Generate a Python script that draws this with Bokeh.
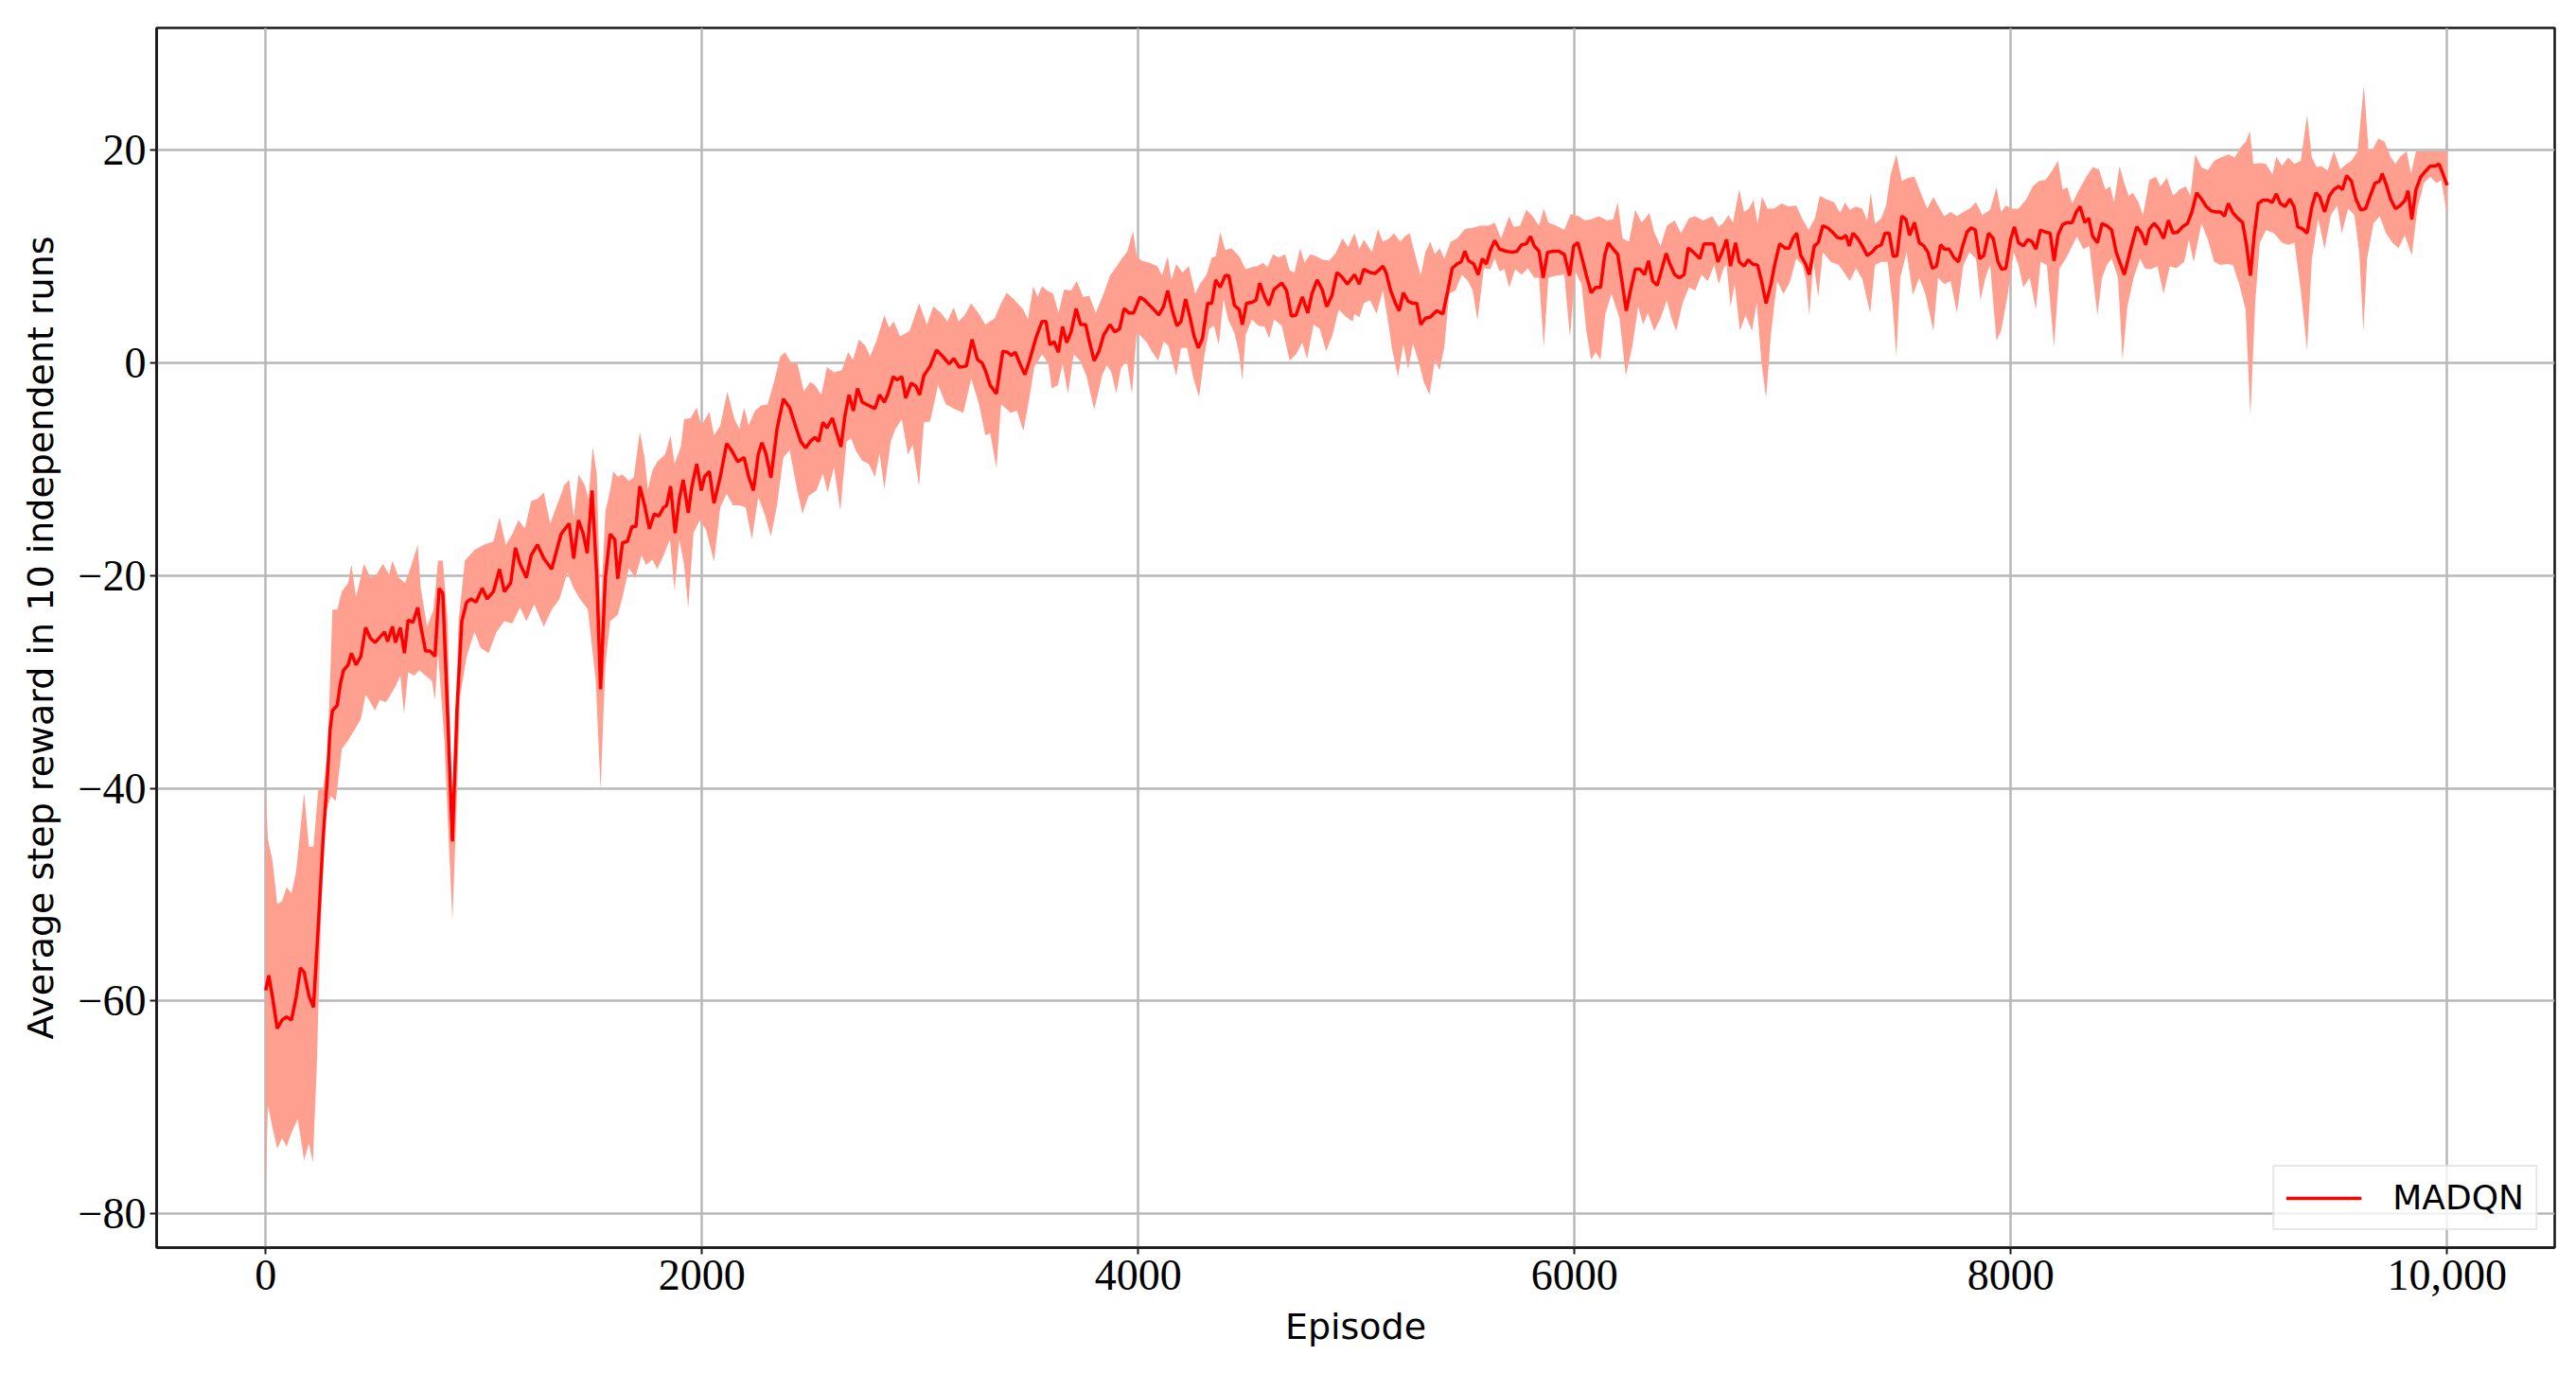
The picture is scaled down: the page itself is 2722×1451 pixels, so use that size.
from bokeh.plotting import figure
from bokeh.models import Range1d
from bokeh.embed import file_html
from bokeh.resources import INLINE

# ---- mean curve (episode, average step reward) ----
mean_ep = [0, 14, 31, 53, 75, 96, 118, 140, 159, 176, 198, 219, 241, 263, 284, 295, 306, 328, 342, 357,
           378, 393, 414, 436, 458, 480, 501, 523, 545, 559, 581, 595, 617, 636, 653, 675, 697, 711, 733, 754,
           776, 795, 812, 834, 856, 877, 899, 921, 942, 964, 993, 1015, 1044, 1072, 1094, 1123, 1145, 1166, 1195, 1217,
           1246, 1275, 1311, 1354, 1391, 1412, 1434, 1456, 1474, 1496, 1518, 1535, 1557, 1579, 1600,
           1614, 1636, 1658, 1679, 1697, 1715, 1737, 1759, 1781, 1802, 1824, 1838, 1856, 1877, 1896, 1914, 1937, 1954, 1976, 1997,
           2012, 2034, 2055, 2084, 2113, 2135, 2164, 2193, 2214, 2236, 2258, 2275, 2294, 2316, 2344, 2373, 2402, 2431, 2453, 2475,
           2496, 2518, 2535, 2554, 2573, 2598, 2616, 2637, 2655, 2674, 2694, 2713, 2735, 2764, 2793, 2814, 2836, 2851, 2877, 2894,
           2916, 2934, 2959, 2981, 2998, 3017, 3046, 3075, 3104, 3133, 3154, 3180, 3212, 3238, 3263, 3284,
           3299, 3321, 3350, 3364, 3379, 3400, 3418, 3436, 3458, 3480, 3501, 3530, 3559, 3577, 3595, 3614, 3634, 3653, 3672, 3692,
           3715, 3736, 3759, 3776, 3798, 3820, 3841, 3870, 3892, 3914, 3935, 3957, 3979, 4008, 4029, 4058, 4094, 4116, 4135, 4155,
           4177, 4196, 4217, 4239, 4256, 4275, 4294, 4318, 4337, 4355, 4376, 4398, 4415, 4441, 4463, 4477, 4496, 4521, 4540, 4557,
           4579, 4598, 4622, 4658, 4680, 4702, 4723, 4752, 4777, 4796, 4820, 4843, 4864, 4887, 4911, 4933, 4959,
           4991, 5013, 5034, 5063, 5085, 5107, 5121, 5136, 5157, 5179, 5196, 5215, 5237, 5259, 5277, 5295, 5316, 5338, 5367, 5396,
           5418, 5439, 5461, 5480, 5497, 5514, 5538, 5558, 5577, 5595, 5616, 5634, 5656, 5685, 5714, 5736, 5757, 5779, 5798, 5815,
           5837, 5856, 5876, 5902, 5928, 5953, 5977, 5996, 6015, 6035, 6057, 6076, 6097, 6119, 6138, 6155, 6177, 6198, 6217, 6237,
           6256, 6278, 6300, 6321, 6339, 6358, 6379, 6401, 6420, 6437, 6459, 6480, 6502, 6521, 6545, 6574, 6593, 6613, 6637, 6657, 6676,
           6697, 6715, 6738, 6755, 6777, 6796, 6816, 6839, 6857, 6878, 6900, 6917, 6940, 6965, 6984, 7001, 7018, 7037, 7059, 7076,
           7099, 7117, 7138, 7160, 7182, 7204, 7225, 7244, 7259, 7276, 7298, 7319, 7341, 7363, 7384, 7406, 7423, 7442, 7461, 7478,
           7500, 7519, 7536, 7558, 7580, 7601, 7620, 7640, 7659, 7678, 7695, 7717, 7739, 7760, 7779, 7799, 7818, 7837, 7857, 7876,
           7898, 7919, 7941, 7958, 7977, 7999, 8016, 8035, 8057, 8078, 8097, 8115, 8136, 8158, 8180, 8198, 8216, 8237, 8259, 8281,
           8300, 8317, 8339, 8357,
           8375, 8397, 8418, 8440, 8462, 8483, 8520, 8549, 8577, 8599, 8618, 8635, 8657, 8679, 8700, 8722, 8744, 8765, 8787, 8809,
           8830, 8852, 8874, 8896, 8917, 8939, 8961, 8979, 8997, 9018, 9040, 9062, 9081, 9098, 9115, 9134, 9156, 9178, 9199, 9217,
           9235, 9257, 9279, 9298, 9315, 9337, 9358, 9380, 9399, 9416, 9438, 9460, 9481, 9503, 9520, 9539, 9561, 9582, 9604, 9626,
           9647, 9669, 9691, 9702, 9720, 9741, 9763, 9785, 9807, 9821, 9838, 9857, 9879, 9900, 9922, 9944, 9963, 9980, 10000]
mean_reward = [-59.0, -57.6, -59.6, -62.6, -61.8, -61.5, -61.8, -59.6, -56.9, -57.3, -59.5, -60.6, -53.0, -44.8, -38.6, -34.5, -32.7, -32.2, -30.2, -28.9,
               -28.4, -27.3, -28.4, -27.6, -24.9, -25.9, -26.3, -25.8, -25.3, -26.2, -24.8, -26.3, -24.9, -27.3, -24.2, -24.4, -23.0, -24.8, -27.1, -27.1,
               -27.6, -21.2, -21.7, -33.0, -45.0, -32.5, -24.3, -22.5, -22.2, -22.5, -21.2, -22.2, -21.5, -19.4, -21.5, -20.7, -17.4, -18.9, -20.2, -18.1,
               -17.1, -18.4, -19.4, -16.1, -15.1, -18.4, -14.8, -16.1, -17.9, -12.0, -20.2, -30.7, -20.2, -16.1, -16.6,
               -20.3, -16.9, -16.8, -15.4, -15.4, -11.6, -13.4, -15.6, -14.2, -14.4, -13.6, -13.4, -11.6, -16.0, -12.8, -11.0, -14.1, -11.6, -9.5, -12.0,
               -10.7, -10.2, -13.2, -10.7, -7.6, -8.2, -9.3, -8.9, -10.7, -12.0, -8.6, -7.5, -8.6, -10.8, -6.2, -3.4, -4.2, -6.1, -7.4, -8.0,
               -7.4, -7.0, -7.4, -5.6, -6.1, -5.2, -6.5, -7.9, -5.0, -3.0, -4.5, -2.4, -3.7, -4.0, -4.3, -3.0, -3.7, -3.0, -1.3, -1.6,
               -1.3, -3.3, -1.9, -2.2, -3.0, -1.2, -0.3, 1.2, 0.6, -0.1, 0.4, -0.4, -0.3, 2.2, 0.3, 0.0,
               -0.7, -2.1, -2.9, -0.9, 1.1, 1.0, 0.7, 1.0, -0.1, -1.1, 0.2, 2.3, 3.9, 3.9, 1.7, 2.0, 1.0, 3.4, 1.9, 2.9,
               5.1, 3.6, 3.6, 2.0, 0.2, 1.1, 2.6, 3.6, 2.9, 3.2, 5.1, 4.7, 4.7, 6.2, 5.9, 5.3, 4.5, 5.3, 6.8, 5.0,
               3.5, 3.9, 6.0, 4.1, 2.5, 1.4, 2.3, 5.6, 5.6, 7.8, 7.1, 8.2, 8.2, 5.4, 5.0, 3.6, 5.6, 5.7, 5.9, 7.5,
               6.2, 5.4, 6.9, 7.5, 6.8, 4.4, 4.5, 6.2, 4.7, 6.5, 7.8, 6.9, 5.3, 6.3, 8.5, 8.1, 7.4,
               8.3, 7.4, 8.8, 8.5, 8.4, 8.8, 9.1, 8.5, 6.8, 5.6, 4.9, 6.6, 5.8, 5.6, 5.6, 3.6, 4.2, 4.3, 4.9, 4.6,
               6.7, 8.9, 9.3, 9.5, 10.5, 9.6, 9.3, 8.3, 9.8, 9.3, 10.7, 11.5, 10.7, 10.5, 10.4, 10.5, 11.1, 11.2, 11.9, 11.0,
               10.5, 8.0, 10.4, 10.5, 10.5, 10.2, 8.2, 11.0, 11.3, 9.8, 8.0, 6.6, 7.1, 7.1, 10.1, 11.3, 10.7, 10.2, 7.7, 4.9,
               6.8, 8.8, 8.8, 8.3, 9.6, 7.7, 7.3, 8.9, 10.3, 9.3, 8.3, 8.0, 8.3, 10.8, 10.4, 9.8, 11.2, 11.2, 11.2, 9.5, 10.4,
               11.6, 9.1, 11.3, 9.5, 9.1, 9.7, 9.3, 9.2, 7.7, 5.6, 7.4, 9.2, 11.2, 10.8, 10.8, 11.7, 12.2, 10.1, 9.3, 8.3,
               11.0, 11.3, 12.9, 12.7, 12.3, 11.8, 11.7, 12.0, 11.0, 12.2, 11.7, 11.0, 10.1, 10.4, 10.9, 11.1, 12.2, 12.2, 10.0, 10.1,
               13.8, 13.5, 12.0, 13.2, 11.3, 11.0, 10.4, 8.9, 9.1, 11.1, 10.7, 10.7, 9.9, 9.5, 11.0, 12.3, 12.7, 12.5, 9.8, 10.1,
               12.2, 11.7, 9.5, 8.8, 8.9, 11.6, 12.8, 11.3, 11.0, 11.6, 11.4, 10.7, 12.5, 12.3, 12.2, 9.6, 12.0, 13.0, 13.2, 13.2,
               14.2, 14.7, 13.2, 13.6,
               11.9, 11.3, 13.1, 12.9, 12.5, 10.4, 8.3, 10.7, 12.8, 12.2, 11.1, 12.6, 13.1, 12.6, 11.7, 13.4, 12.2, 12.3, 12.8, 13.1,
               14.2, 16.0, 15.4, 14.7, 14.3, 14.2, 14.2, 13.8, 15.0, 14.1, 13.6, 13.2, 11.0, 8.2, 11.9, 15.0, 15.3, 15.3, 15.1, 15.9,
               15.0, 14.7, 15.4, 14.7, 12.8, 12.6, 12.2, 14.7, 16.0, 15.6, 14.2, 15.7, 16.3, 16.6, 16.3, 17.6, 17.1, 15.4, 14.4, 14.5,
               15.7, 16.9, 17.1, 17.8, 16.8, 15.4, 14.5, 14.8, 15.3, 16.2, 13.5, 16.3, 17.5, 18.0, 18.5, 18.5, 18.7, 17.8, 16.7]

# ---- upper edge of the shaded band ----
upper_ep = [0, 10, 31, 53, 75, 96, 118, 140, 176, 198, 219, 241, 263, 284, 306, 328, 349, 378, 393, 414,
            451, 480, 508, 537, 566, 581, 610, 639, 667, 697, 711, 740, 769, 790, 812, 834, 856, 884, 913, 957,
            1000, 1044, 1072, 1101, 1130, 1159, 1188, 1217, 1246, 1275, 1304, 1333, 1369, 1391, 1412, 1434, 1463, 1480, 1499, 1518,
            1535, 1557, 1579, 1593,
            1614, 1636, 1665, 1687, 1715, 1737, 1752, 1773, 1795, 1831, 1856, 1874, 1903, 1918, 1947, 1976, 1997, 2034, 2055, 2084,
            2116, 2149, 2171, 2193, 2214, 2243, 2272, 2301, 2330, 2359, 2381, 2409, 2438, 2467, 2496, 2518, 2547, 2573, 2605, 2641,
            2670, 2692, 2720, 2749, 2771, 2800, 2836, 2858, 2879, 2908, 2952, 2995, 3031, 3060, 3096, 3125, 3154, 3176, 3205, 3234, 3270,
            3299, 3342, 3371, 3397, 3429, 3473, 3494, 3519, 3538, 3559, 3581, 3610, 3634, 3660, 3692, 3718, 3747, 3776, 3805, 3841,
            3870, 3892, 3921, 3950, 3976, 3993, 4015, 4051, 4087, 4109, 4135, 4152, 4174, 4203, 4232, 4261, 4282, 4311, 4337, 4355,
            4376, 4398, 4427, 4463, 4492, 4521, 4546, 4572, 4593, 4618, 4644, 4673, 4694, 4716, 4742, 4762, 4788, 4817, 4846, 4875,
            4904, 4936, 4962,
            4991, 5013, 5034, 5071, 5099, 5121, 5150, 5172, 5201, 5222, 5244, 5266, 5295, 5316, 5338, 5360, 5381, 5403, 5432, 5461,
            5497, 5533, 5569, 5606, 5634, 5663, 5700, 5721, 5750, 5779, 5808, 5837, 5859, 5880, 5916, 5953, 5982, 6018, 6047, 6076,
            6112, 6148, 6177, 6198, 6220, 6249, 6278, 6307, 6343, 6365, 6394, 6423, 6459, 6488, 6524, 6553, 6589, 6632, 6661,
            6683, 6705, 6726, 6755, 6777, 6799, 6820, 6839, 6859, 6885, 6914, 6950, 6979, 7016, 7045, 7073, 7102, 7124, 7153, 7189,
            7218, 7240, 7261, 7290, 7319, 7341, 7358, 7377, 7406, 7428, 7449, 7475, 7500, 7529, 7558, 7587, 7616, 7645, 7674, 7695,
            7724, 7753, 7782, 7811, 7840, 7869, 7905, 7934, 7955, 7977, 8006, 8035, 8071, 8100, 8129, 8158, 8187, 8216, 8237, 8259,
            8281, 8310, 8346,
            8375, 8404, 8433, 8455, 8473, 8498, 8520, 8541, 8560, 8585, 8606, 8635, 8664, 8686, 8715, 8744, 8773, 8802, 8823, 8845,
            8874, 8903, 8932, 8961, 8997, 9026, 9055, 9077, 9095, 9112, 9141, 9170, 9199, 9217, 9243, 9271, 9300, 9329, 9358, 9380,
            9402, 9423, 9452, 9481, 9510, 9539, 9561, 9590, 9618, 9640, 9662, 9684, 9713, 9742, 9763, 9785, 9814, 9835, 9857, 9886,
            9915, 9944, 9973, 10000]
upper_reward = [-40.1, -44.8, -46.8, -50.9, -50.6, -49.3, -49.9, -47.8, -40.4, -45.5, -45.5, -40.1, -40.1, -36.6, -23.2, -23.2, -21.5, -20.7, -19.0, -22.0,
                -18.9, -20.2, -19.9, -18.9, -19.9, -18.6, -20.2, -20.7, -19.1, -17.1, -21.2, -24.8, -23.2, -18.6, -18.6, -24.3, -44.2, -24.3, -18.6, -17.6,
                -17.1, -16.8, -14.5, -17.1, -16.1, -14.8, -15.6, -13.0, -12.8, -12.2, -15.1, -13.5, -11.5, -11.0, -14.5, -10.5, -11.5, -12.8, -7.9, -10.5,
                -23.8, -14.0, -12.0, -10.2,
                -10.7, -10.5, -11.1, -10.8, -6.5, -8.9, -11.9, -10.1, -9.3, -8.6, -6.8, -9.5, -7.9, -5.3, -5.2, -4.2, -5.9, -4.6, -6.8, -5.9,
                -2.7, -5.3, -6.2, -4.2, -5.9, -4.5, -4.0, -3.9, -1.8, 0.6, 1.0, 0.0, -0.1, -2.7, -1.8, -2.1, -3.0, -0.4, -0.9, -0.7,
                1.0, 0.3, 2.2, 1.6, 0.6, 2.1, 4.5, 3.3, 3.9, 2.5, 3.0, 5.6, 3.6, 5.3, 4.7, 3.9, 5.2, 3.9, 4.5, 5.6, 4.6,
                3.6, 4.2, 5.6, 6.6, 6.0, 5.0, 4.1, 7.2, 6.2, 7.2, 6.8, 6.5, 4.7, 6.9, 6.8, 7.7, 6.2, 6.3, 4.7, 6.5,
                8.2, 8.8, 9.7, 10.5, 12.4, 10.0, 9.6, 9.4, 9.1, 8.2, 10.0, 7.8, 9.3, 8.5, 9.1, 6.5, 7.4, 8.2, 9.9, 10.0,
                12.3, 10.6, 10.8, 10.0, 8.8, 9.0, 9.1, 9.4, 9.0, 10.2, 9.9, 10.2, 8.7, 8.5, 10.8, 9.4, 10.2, 10.0, 9.7, 9.6,
                10.3, 11.7, 10.9,
                12.2, 10.7, 11.6, 10.4, 12.6, 11.4, 11.7, 12.2, 11.4, 11.9, 12.2, 10.4, 8.2, 10.4, 11.4, 10.2, 10.8, 9.8, 11.4, 11.7,
                12.6, 12.7, 12.9, 12.9, 13.2, 11.7, 13.8, 12.8, 12.9, 14.4, 13.8, 12.9, 14.5, 13.2, 12.9, 12.5, 14.0, 13.8, 13.4, 13.5,
                13.8, 13.4, 13.5, 15.1, 11.7, 11.4, 14.4, 13.2, 14.1, 12.3, 11.0, 12.9, 13.4, 12.2, 13.6, 13.8, 13.4, 13.8, 12.8,
                13.2, 13.9, 13.2, 16.3, 14.2, 14.5, 15.3, 13.1, 15.6, 14.5, 14.5, 15.0, 14.7, 14.8, 13.5, 12.5, 13.6, 15.7, 15.4, 15.1,
                14.1, 15.1, 14.4, 14.7, 14.5, 13.4, 16.0, 13.1, 13.6, 14.8, 17.7, 19.6, 17.1, 17.4, 17.5, 16.0, 14.5, 15.6, 14.5, 13.8,
                14.2, 13.8, 14.2, 14.5, 15.1, 13.9, 14.4, 16.5, 14.2, 14.8, 14.5, 14.5, 15.4, 16.6, 17.1, 17.2, 18.0, 19.0, 16.3, 16.5,
                15.0, 16.2, 17.5,
                18.4, 18.2, 16.3, 16.6, 15.1, 18.5, 16.9, 15.7, 16.0, 15.1, 13.9, 17.2, 17.5, 16.6, 17.4, 15.7, 16.3, 16.6, 15.7, 19.6,
                18.4, 18.1, 19.0, 19.3, 19.6, 19.3, 20.3, 20.8, 21.8, 18.7, 18.8, 18.7, 17.7, 19.4, 18.5, 19.3, 18.7, 19.0, 23.3, 19.3,
                18.4, 18.5, 18.1, 19.9, 18.2, 18.7, 19.0, 19.9, 26.1, 19.9, 20.2, 21.1, 20.8, 19.3, 18.7, 19.4, 19.9, 17.8, 19.9, 19.9,
                19.9, 19.9, 19.9, 19.9]

# ---- lower edge of the shaded band ----
lower_ep = [0, 10, 31, 53, 75, 96, 118, 147, 176, 198, 216, 234, 255, 277, 299, 321, 349, 378, 407, 436,
            458, 480, 501, 523, 552, 573, 595, 617, 634, 653, 682, 704, 733, 762, 776, 790, 819, 841, 856, 870,
            891, 921, 957, 986, 1022, 1058, 1094, 1130, 1166, 1195, 1231, 1275, 1311, 1347, 1383, 1412, 1441, 1477, 1513, 1535,
            1557, 1579,
            1614, 1636, 1665, 1694, 1723, 1744, 1773, 1795, 1824, 1853, 1874, 1896, 1918, 1937, 1961, 1990, 2019, 2055, 2084, 2113,
            2142, 2171, 2200, 2229, 2258, 2287, 2316, 2344, 2373, 2402, 2431, 2460, 2489, 2525, 2554, 2576, 2605, 2634, 2663, 2684,
            2706, 2735, 2764, 2793, 2814, 2836, 2865, 2887, 2916, 2944, 2966, 2995, 3017, 3046, 3082, 3118, 3154, 3198, 3234, 3270, 3299,
            3321, 3350, 3371, 3415, 3444, 3473, 3501, 3523, 3559, 3588, 3603, 3632, 3653, 3678, 3704, 3733, 3762, 3798, 3834, 3856,
            3877, 3899, 3921, 3947, 3971, 3993, 4036, 4065, 4091, 4116, 4138, 4174, 4196, 4224, 4253, 4279, 4304, 4326, 4347, 4369,
            4391, 4412, 4441, 4463, 4477, 4492, 4521, 4550, 4579, 4600, 4622, 4658, 4694, 4723, 4752, 4774, 4803, 4832, 4861, 4890,
            4919, 4948, 4983,
            4991, 5013, 5034, 5063, 5092, 5121, 5143, 5164, 5191, 5215, 5237, 5259, 5287, 5309, 5335, 5360, 5381, 5403, 5425, 5454,
            5483, 5512, 5533, 5555, 5584, 5613, 5634, 5656, 5678, 5700, 5728, 5757, 5786, 5815, 5837, 5859, 5880, 5916, 5953, 5979,
            6003, 6032, 6054, 6076, 6097, 6119, 6141, 6169, 6206, 6235, 6264, 6292, 6314, 6336, 6365, 6394, 6423, 6444, 6466, 6495,
            6524, 6553, 6582, 6611, 6640, 6661,
            6683, 6697, 6715, 6734, 6758, 6784, 6813, 6835, 6857, 6878, 6900, 6929, 6958, 6987, 7016, 7045, 7062, 7076, 7095, 7117,
            7138, 7175, 7211, 7232, 7261, 7290, 7319, 7355, 7377, 7406, 7435, 7457, 7475, 7493, 7522, 7551, 7580, 7608, 7645, 7666,
            7695, 7724, 7753, 7782, 7811, 7840, 7861, 7883, 7905, 7934, 7955, 7984, 8013, 8035, 8057, 8086, 8115, 8136, 8165, 8198,
            8223, 8252, 8274, 8303, 8332, 8360,
            8375, 8397, 8418, 8440, 8462, 8491, 8512, 8534, 8563, 8592, 8614, 8642, 8672, 8700, 8729, 8758, 8794, 8816, 8838, 8874,
            8903, 8932, 8961, 8990, 9018, 9047, 9076, 9098, 9120, 9141, 9170, 9206, 9243, 9271, 9300, 9329, 9358, 9380, 9409, 9438,
            9467, 9496, 9517, 9546, 9575, 9597, 9616, 9633, 9662, 9691, 9720, 9749, 9777, 9806, 9838, 9864, 9893, 9922, 9951, 9973, 10000]
lower_reward = [-77.5, -69.8, -71.9, -73.9, -72.9, -73.7, -72.4, -71.1, -75.0, -73.4, -75.2, -66.3, -50.9, -42.2, -40.7, -41.2, -36.3, -35.5, -34.5, -33.5,
                -31.2, -31.9, -32.7, -31.7, -31.9, -31.2, -30.4, -29.4, -33.0, -29.1, -29.4, -28.9, -29.4, -29.9, -31.7, -27.3, -35.5, -45.8, -52.4, -44.8,
                -31.4, -27.6, -25.3, -26.8, -27.3, -25.3, -24.3, -24.5, -23.0, -24.3, -22.7, -24.8, -23.2, -22.2, -19.7, -21.2, -22.2, -23.2, -29.9, -40.1,
                -28.4, -24.3,
                -23.7, -22.0, -19.3, -20.2, -18.1, -19.0, -18.5, -19.4, -18.1, -16.6, -21.4, -16.6, -19.0, -23.0, -16.0, -14.8, -15.7, -18.7, -13.6, -12.3,
                -13.4, -13.4, -13.6, -16.6, -12.6, -14.2, -16.3, -13.4, -8.9, -8.2, -11.4, -14.2, -12.5, -12.0, -10.4, -12.2, -9.8, -13.9, -7.4, -7.1,
                -8.3, -9.2, -9.5, -10.7, -8.5, -11.9, -7.4, -6.2, -5.3, -8.6, -7.7, -11.6, -5.6, -5.5, -2.1, -3.9, -4.3, -4.7, -1.5, -3.9, -6.8,
                -6.6, -9.9, -3.9, -4.7, -4.5, -6.4, -3.3, -0.4, 0.8, -0.1, -2.4, -2.1, -0.1, -2.9, 0.8, 0.2, -1.2, -4.4, -1.2, -0.2,
                -0.9, -2.9, -0.5, 0.2, -2.9, 2.9, 2.0, 1.0, 0.2, 2.0, 1.6, -1.2, 1.4, 1.4, -1.5, -3.2, 0.8, 3.2, 3.5, 1.7,
                6.0, 4.1, 2.8, 0.8, -1.7, 2.6, 4.1, 3.5, 3.4, 2.3, 4.1, 3.5, 0.2, 0.8, 1.9, 0.4, 3.6, 3.2, 1.1, 2.6,
                5.0, 4.4, 3.9,
                4.6, 4.3, 5.6, 5.9, 4.6, 6.8, 4.2, 1.2, -1.3, 1.8, -0.6, 1.8, 0.0, -1.8, -3.0, 0.3, -0.7, 1.5, 6.5, 6.8,
                8.3, 7.7, 6.8, 4.0, 8.9, 8.8, 9.8, 8.6, 8.8, 7.1, 8.8, 8.3, 8.9, 8.0, 8.0, 1.5, 8.0, 8.2, 8.3, 2.4,
                8.6, 7.4, 3.0, 0.3, 1.0, 0.3, 4.6, 6.5, 4.2, -1.2, 1.5, 5.3, 3.6, 4.7, 3.0, 4.2, 5.9, 4.2, 3.0, 5.6,
                7.1, 6.8, 8.3, 7.7, 9.2, 7.4,
                8.9, 9.2, 5.3, 7.4, 3.0, 4.5, 3.0, 5.6, 0.0, -3.3, 2.7, 7.7, 6.5, 7.6, 9.8, 9.2, 7.7, 4.5, 9.5, 6.2,
                10.4, 9.5, 9.2, 8.6, 7.7, 8.9, 7.9, 4.7, 9.2, 9.5, 9.5, 5.6, 0.6, 8.0, 10.4, 6.4, 8.0, 6.5, 3.0, 8.0,
                7.4, 7.7, 4.7, 9.2, 10.4, 9.8, 5.9, 8.0, 9.2, 2.1, 3.0, 6.2, 10.4, 9.2, 7.1, 8.0, 5.0, 9.5, 9.2, 1.5,
                8.9, 9.8, 10.7, 11.9, 10.7, 11.0,
                8.3, 4.5, 8.0, 9.2, 9.8, 8.0, 0.3, 5.3, 8.0, 9.8, 8.9, 8.8, 9.1, 6.5, 9.1, 8.9, 9.5, 11.6, 9.5, 13.1,
                11.6, 9.5, 9.2, 9.3, 9.2, 7.4, 5.0, -5.0, 5.6, 11.3, 12.5, 12.2, 11.3, 11.1, 11.3, 6.8, 1.2, 9.8, 13.6, 10.7,
                13.9, 14.8, 12.2, 14.5, 13.9, 10.4, 3.0, 9.8, 13.1, 13.8, 12.2, 11.3, 10.8, 12.0, 10.1, 14.5, 16.9, 17.5, 16.9, 17.2, 13.9]

# ---- axes ----
x_ticks = [0, 2000, 4000, 6000, 8000, 10000]
x_tick_labels = ["0", "2000", "4000", "6000", "8000", "10,000"]
y_ticks = [-80, -60, -40, -20, 0, 20]
y_tick_labels = ["\u221280", "\u221260", "\u221240", "\u221220", "0", "20"]
series_name = "MADQN"
x_title = "Episode"
y_title = "Average step reward in 10 independent runs"

p = figure(width=2714, height=1443, output_backend="svg", toolbar_location=None,
           x_range=Range1d(-500, 10493), y_range=Range1d(-83.2, 31.5),
           min_border_left=165, min_border_right=15, min_border_top=29, min_border_bottom=125,
           background_fill_color="white", border_fill_color="white")

band_x = upper_ep + lower_ep[::-1]
band_y = upper_reward + lower_reward[::-1]
p.patch(band_x, band_y, fill_color="#fe9f90", fill_alpha=1.0, line_color=None)
p.line(mean_ep, mean_reward, line_color="#ff0000", line_width=3.5, legend_label=series_name)

for ax, ticks, labels in ((p.xaxis, x_ticks, x_tick_labels), (p.yaxis, y_ticks, y_tick_labels)):
    ax.ticker = ticks
    ax.major_label_overrides = dict(zip(ticks, labels))
    ax.major_label_text_font = "Liberation Serif"
    ax.major_label_text_font_size = "46px"
    ax.major_label_text_color = "black"
    ax.major_tick_out = 7
    ax.major_tick_in = 0
    ax.minor_tick_out = 0
    ax.minor_tick_in = 0
    ax.major_tick_line_width = 2
    ax.major_tick_line_color = "#1a1a1a"
    ax.axis_line_color = "#1a1a1a"
    ax.axis_line_width = 2.6
    ax.axis_label_text_font = "DejaVu Sans"
    ax.axis_label_text_font_size = "38px"
    ax.axis_label_text_font_style = "normal"
    ax.axis_label_text_color = "black"

p.xaxis.axis_label = x_title
p.yaxis.axis_label = y_title
p.xaxis.major_label_standoff = 6
p.xaxis.axis_label_standoff = 14
p.yaxis.major_label_standoff = 4
p.yaxis.axis_label_standoff = 15

p.xgrid.ticker = x_ticks
p.ygrid.ticker = y_ticks
p.grid.grid_line_color = "#b8b8b8"
p.grid.grid_line_width = 2.5

p.outline_line_color = "#1a1a1a"
p.outline_line_width = 2.6
p.outline_line_alpha = 1.0

p.legend.location = "bottom_right"
p.legend.margin = 18
p.legend.padding = 12
p.legend.spacing = 0
p.legend.glyph_width = 80
p.legend.glyph_height = 40
p.legend.label_standoff = 33
p.legend.label_text_font = "DejaVu Sans"
p.legend.label_text_font_size = "36px"
p.legend.label_text_color = "black"
p.legend.border_line_color = "#d0d0d0"
p.legend.border_line_width = 2
p.legend.background_fill_color = "white"
p.legend.background_fill_alpha = 0.8

open("out.html", "w").write(file_html(p, INLINE))
